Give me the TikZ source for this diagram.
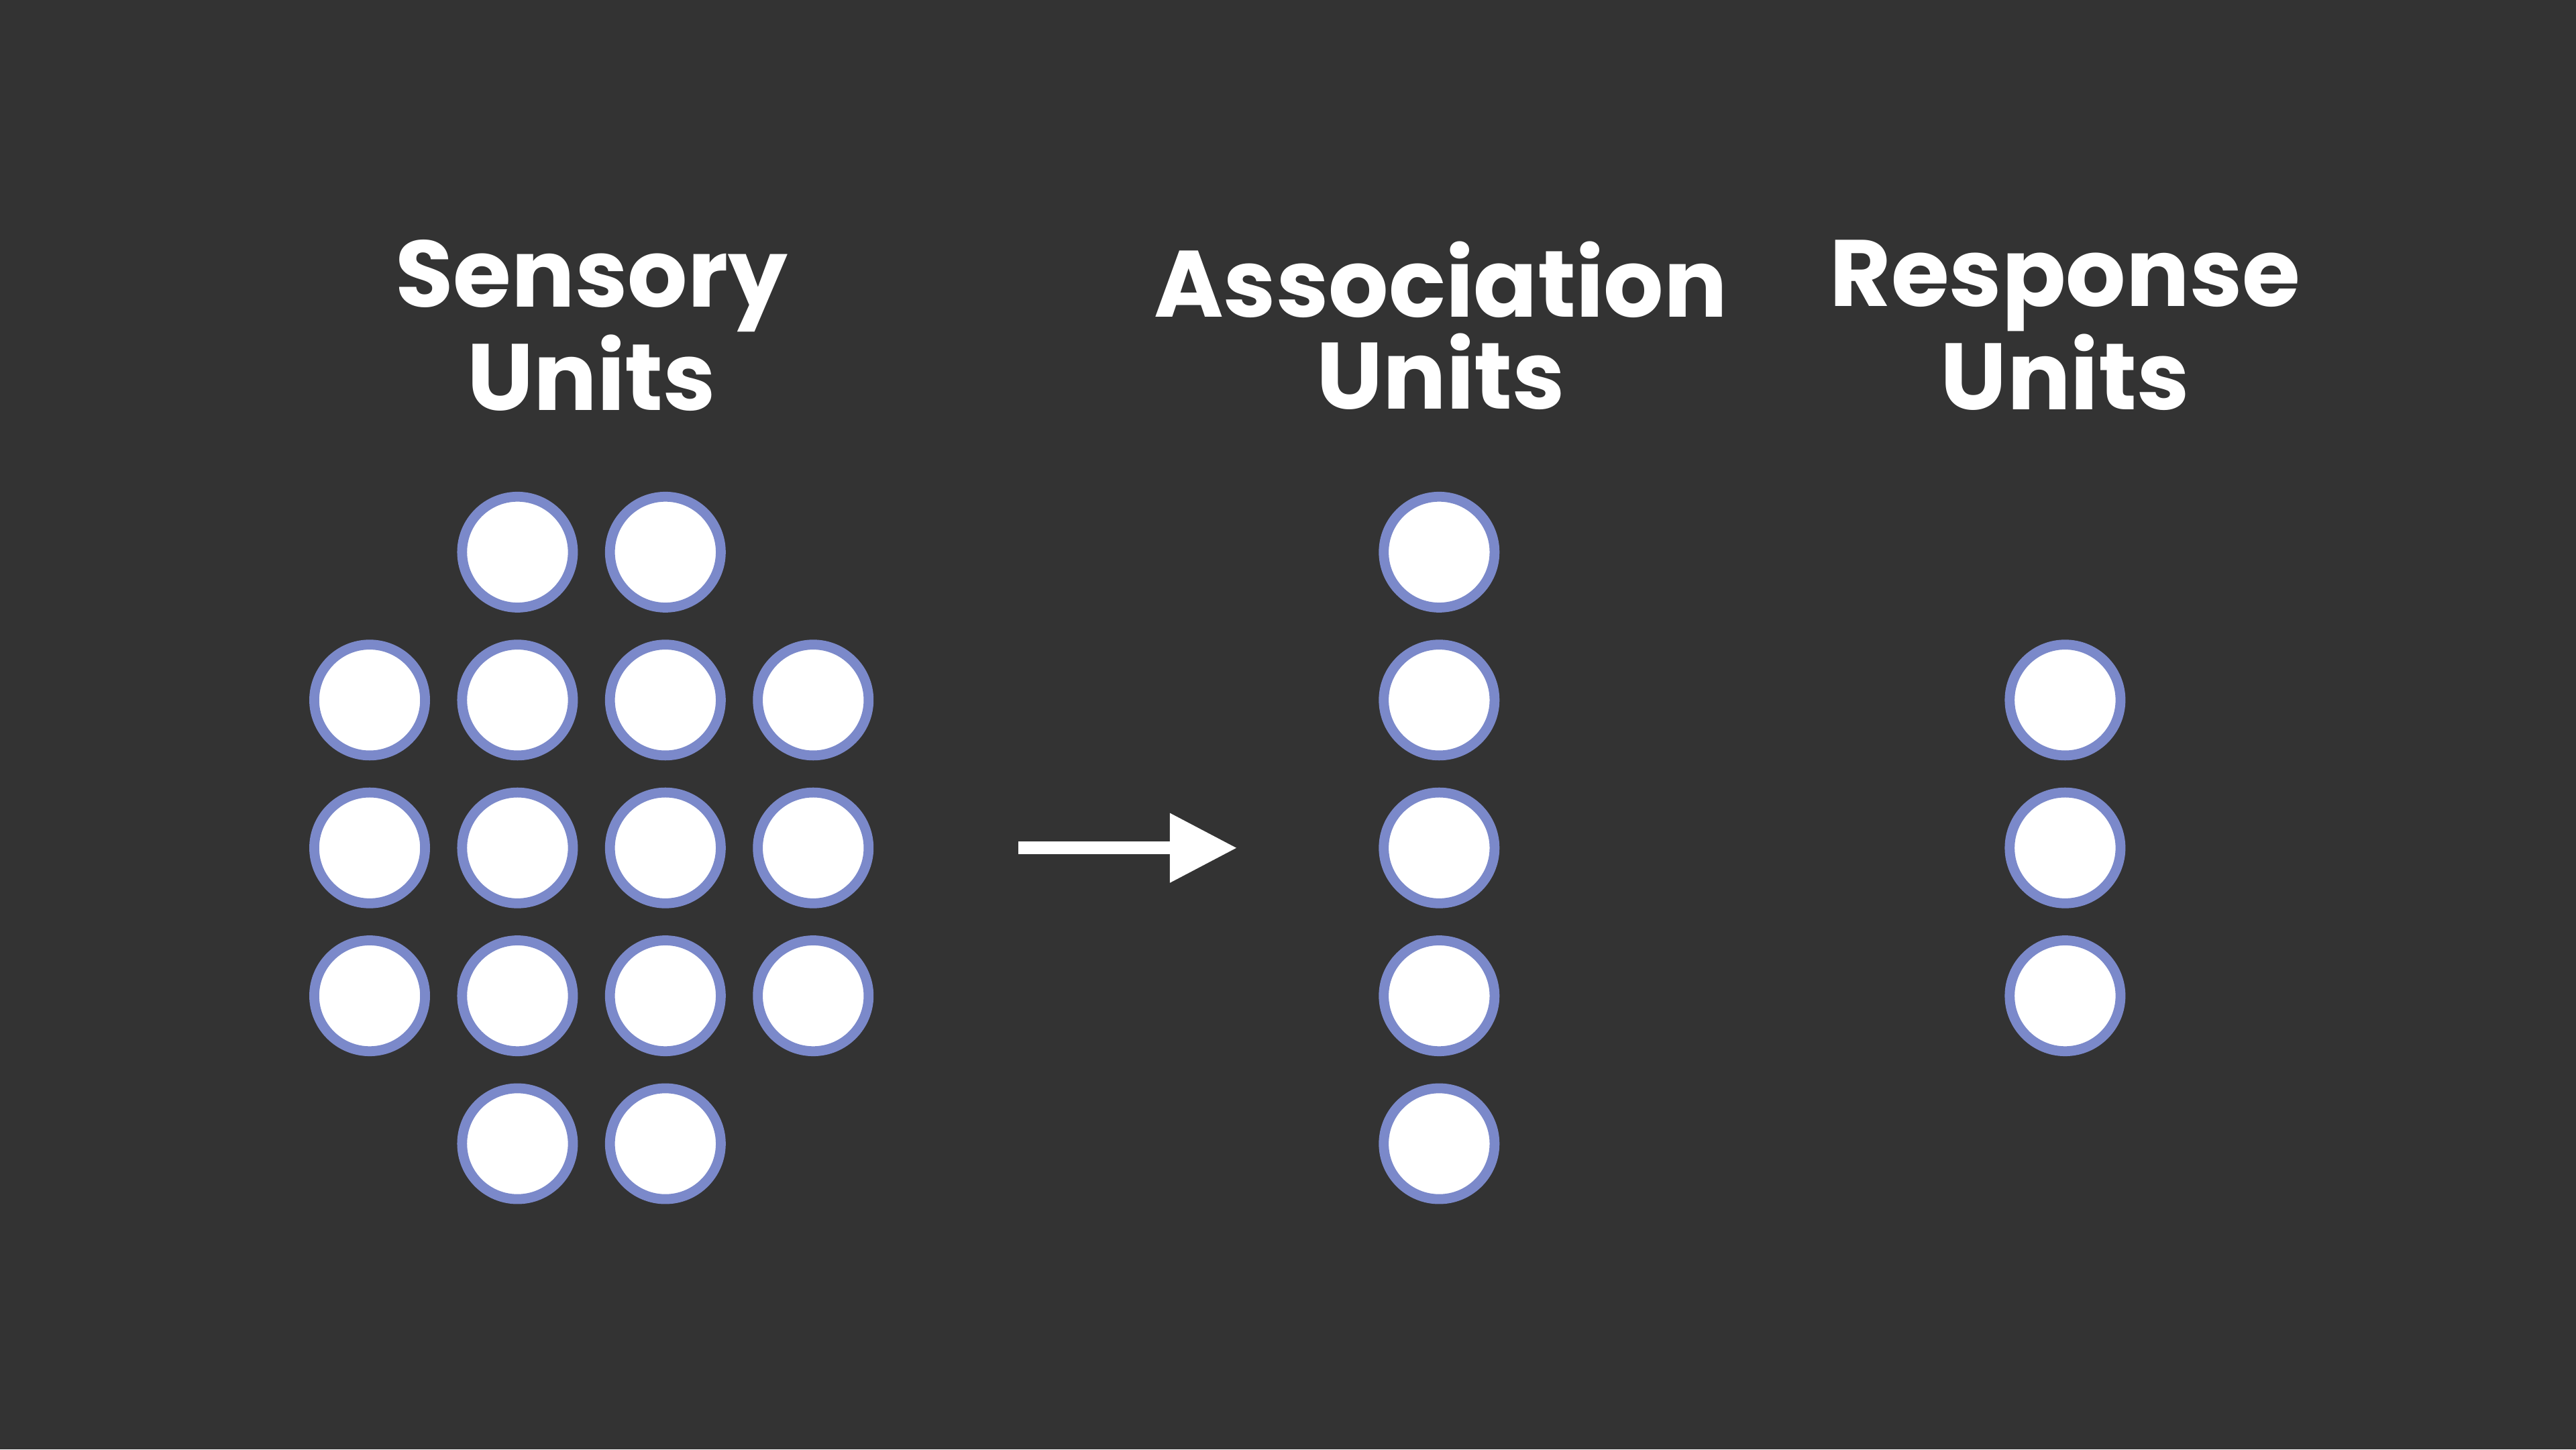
\documentclass[tikz,border=0pt]{standalone}
\usepackage{fontspec}
\setmainfont{Poppins}
\usetikzlibrary{arrows.meta}
\definecolor{bg}{HTML}{333333}
\definecolor{ring}{HTML}{7B89CA}
\tikzset{
  unit/.style={circle,draw=ring,fill=white,line width=4.2pt,minimum size=47pt,inner sep=0pt},
  ttl/.style={text=white,font=\bfseries\fontsize{40}{39}\selectfont,align=center},
}
\begin{document}
\begin{tikzpicture}[x=0.02449cm,y=-0.02449cm]
\fill[bg] (0,0) rectangle (1568,882);
\useasboundingbox (0,0) rectangle (1568,882);
\node[ttl] (ts) at (360,198) {Sensory\\Units};
\node[ttl] (ta) at (877,198) {Association\\Units};
\node[ttl] (tr) at (1257,198) {Response\\Units};
% sensory
\foreach \c/\x in {1/225,2/315,3/405,4/495}{
  \foreach \r/\y in {2/426,3/516,4/606}{
    \node[unit] (s\r\c) at (\x,\y) {};
  }
}
\foreach \c/\x in {2/315,3/405}{
  \node[unit] (s1\c) at (\x,336) {};
  \node[unit] (s5\c) at (\x,696) {};
}
\foreach \r/\y in {1/336,2/426,3/516,4/606,5/696}{
  \node[unit] (a\r) at (876,\y) {};
}
\foreach \r/\y in {1/426,2/516,3/606}{
  \node[unit] (r\r) at (1257,\y) {};
}
\coordinate (p0) at (620,516);
\coordinate (p1) at (753,516);
\draw[white,line width=5.5pt,-{Triangle[length=28.5pt,width=28pt]}] (p0) -- (p1);
\end{tikzpicture}
\end{document}
